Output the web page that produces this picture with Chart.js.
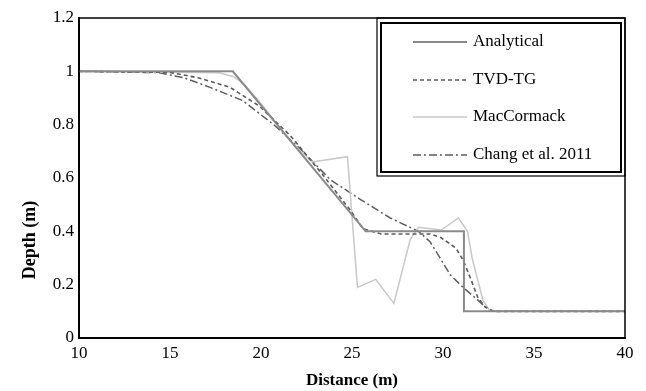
<!DOCTYPE html>
<html>
<head>
<meta charset="utf-8">
<script src="https://cdn.jsdelivr.net/npm/chart.js@4"></script>
<style>
  html, body { margin: 0; padding: 0; background: #fff; }
  #wrap { width: 646px; height: 391px; }
</style>
</head>
<body>
<div id="wrap"><canvas id="depthChart" width="646" height="391"></canvas></div>
<script>
// Perfil de profundidad (dam break)
const analyticalX = [10, 18.45, 25.75, 31.15, 31.15, 40];
const analyticalY = [1.0, 1.0, 0.4, 0.4, 0.1, 0.1];

const tvdX = [10, 15.0, 16.6, 18.3, 19.9, 21.6, 23.3, 24.9, 25.6, 26.6, 29.3, 29.9, 30.7, 31.1, 31.5, 31.9, 32.3, 32.8, 40];
const tvdY = [1.0, 0.996, 0.975, 0.94, 0.87, 0.76, 0.62, 0.48, 0.41, 0.39, 0.39, 0.376, 0.338, 0.293, 0.226, 0.154, 0.117, 0.1, 0.1];

const macX = [10, 17.7, 18.5, 19.1, 20.1, 21.6, 22.8, 24.75, 25.3, 26.3, 27.3, 28.2, 28.65, 29.9, 30.85, 31.35, 31.6, 31.9, 32.2, 32.6, 40];
const macY = [1.0, 0.995, 0.98, 0.95, 0.87, 0.74, 0.66, 0.68, 0.19, 0.22, 0.13, 0.37, 0.415, 0.405, 0.45, 0.40, 0.30, 0.22, 0.14, 0.1, 0.1];

const changX = [10, 14.4, 15.8, 17.2, 19.0, 20.7, 22.15, 23.8, 25.45, 27.1, 28.65, 29.3, 29.9, 30.4, 31.1, 31.9, 32.6, 40];
const changY = [1.0, 0.995, 0.975, 0.94, 0.89, 0.80, 0.71, 0.594, 0.52, 0.45, 0.40, 0.36, 0.293, 0.237, 0.19, 0.143, 0.1, 0.1];

const xTicks = [10, 15, 20, 25, 30, 35, 40];
const yTicks = [0, 0.2, 0.4, 0.6, 0.8, 1, 1.2];

function pts(xs, ys) {
  return xs.map((x, i) => ({ x: x, y: ys[i] }));
}

const serif = '"Liberation Serif", "DejaVu Serif", serif';

const series = [
  { label: 'Analytical', data: pts(analyticalX, analyticalY), color: '#8a8a8a', width: 2, dash: [] },
  { label: 'TVD-TG', data: pts(tvdX, tvdY), color: '#5a5a5a', width: 1.6, dash: [4, 3] },
  { label: 'MacCormack', data: pts(macX, macY), color: '#c8c8c8', width: 1.5, dash: [] },
  { label: 'Chang et al. 2011', data: pts(changX, changY), color: '#5e5e5e', width: 1.5, dash: [8, 3, 2, 3] }
];

// marco del grafico + leyenda en caja doble + titulo del eje y
const frameLegend = {
  id: 'frameLegend',
  afterDraw(chart) {
    const ctx = chart.ctx;
    const a = chart.chartArea;
    ctx.save();
    ctx.strokeStyle = '#000';
    ctx.lineWidth = 1.5;
    ctx.strokeRect(a.left, a.top, a.right - a.left, a.bottom - a.top);

    // caja de leyenda
    ctx.lineWidth = 1.2;
    ctx.strokeRect(377, a.top, a.right - 377, 158);
    ctx.lineWidth = 2;
    ctx.strokeRect(381, 23, a.right - 4 - 381, 149);

    const rowsY = [42, 80, 117, 155];
    ctx.font = '17px ' + serif;
    ctx.textBaseline = 'middle';
    ctx.textAlign = 'left';
    series.forEach((s, i) => {
      ctx.beginPath();
      ctx.strokeStyle = s.color;
      ctx.lineWidth = s.width;
      ctx.setLineDash(s.dash);
      ctx.moveTo(413, rowsY[i]);
      ctx.lineTo(467, rowsY[i]);
      ctx.stroke();
      ctx.setLineDash([]);
      ctx.fillStyle = '#000';
      ctx.fillText(s.label, 473, rowsY[i]);
    });

    // titulo eje y (desplazado hacia abajo como en la figura)
    ctx.translate(30, 240);
    ctx.rotate(-Math.PI / 2);
    ctx.font = 'bold 18px ' + serif;
    ctx.textAlign = 'center';
    ctx.fillText('Depth (m)', 0, 0);
    ctx.restore();
  }
};

const ctx = document.getElementById('depthChart').getContext('2d');
const depthChart = new Chart(ctx, {
  type: 'scatter',
  data: {
    datasets: series.map(s => ({
      label: s.label,
      data: s.data,
      showLine: true,
      borderColor: s.color,
      borderWidth: s.width,
      borderDash: s.dash,
      pointRadius: 0,
      tension: 0,
      fill: false
    }))
  },
  options: {
    responsive: false,
    animation: false,
    layout: { padding: { top: 18, right: 21, left: 0, bottom: 0 } },
    plugins: {
      legend: { display: false },
      tooltip: { enabled: false }
    },
    scales: {
      x: {
        type: 'linear',
        min: 10,
        max: 40,
        afterBuildTicks: s => { s.ticks = xTicks.map(v => ({ value: v })); },
        afterFit: s => { s.height = 53; },
        grid: { display: false, drawTicks: false },
        border: { display: true, color: '#000', width: 2 },
        ticks: { color: '#000', padding: 5, font: { family: serif, size: 17 } },
        title: {
          display: true,
          text: 'Distance (m)',
          color: '#000',
          padding: { top: 8, bottom: 0 },
          font: { family: serif, size: 17, weight: 'bold' }
        }
      },
      y: {
        type: 'linear',
        min: 0,
        max: 1.2,
        afterBuildTicks: s => { s.ticks = yTicks.map(v => ({ value: v })); },
        afterFit: s => { s.width = 79; },
        grid: { display: false, drawTicks: false },
        border: { display: true, color: '#000', width: 2 },
        ticks: {
          color: '#000',
          padding: 5,
          font: { family: serif, size: 17 },
          callback: v => String(Math.round(v * 10) / 10)
        },
        title: { display: false }
      }
    }
  },
  plugins: [frameLegend]
});
</script>
</body>
</html>
